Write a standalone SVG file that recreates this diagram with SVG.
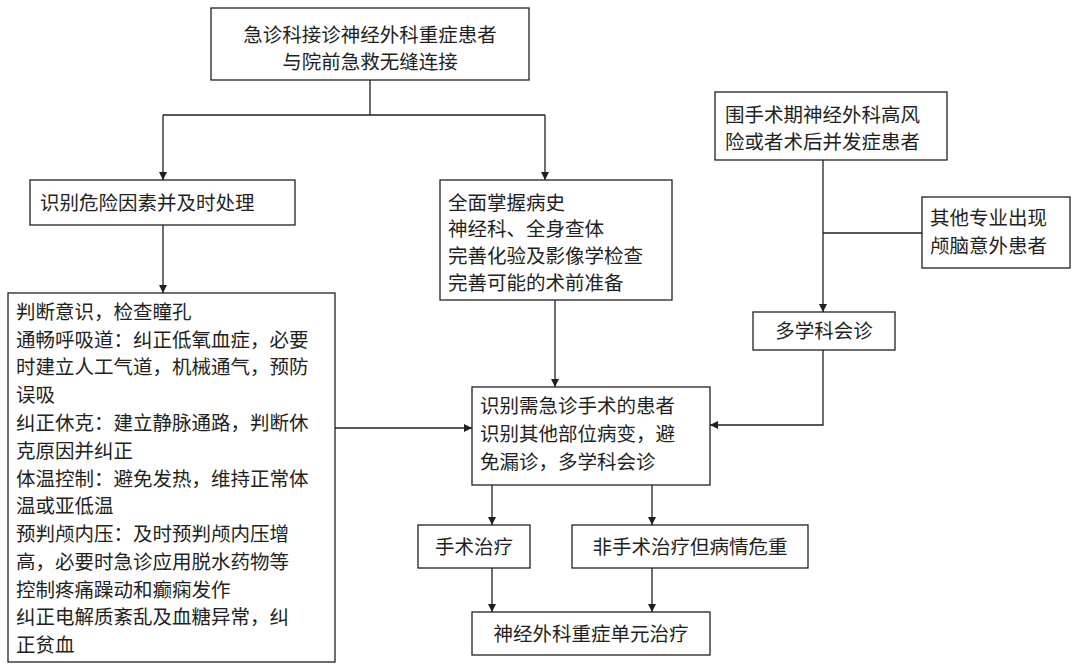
<svg xmlns="http://www.w3.org/2000/svg" width="1080" height="669" viewBox="0 0 1080 669">
<defs>
<style>
rect{fill:#fff;stroke:#231f20;stroke-width:1.3}
text{font-family:"Noto Sans CJK SC","Liberation Serif",serif;font-size:19.5px;fill:#231f20}
.c{text-anchor:middle}
.ln{stroke:#231f20;stroke-width:1.3;fill:none}
</style>
<marker id="a" viewBox="0 0 10 10" refX="10" refY="5" markerWidth="8" markerHeight="8" orient="auto" markerUnits="userSpaceOnUse"><path d="M0,0L10,5L0,10z" fill="#231f20"/></marker>
</defs>
<rect x="0" y="0" width="1080" height="669" style="fill:#fff;stroke:none"/>
<g id="connectors">
<path class="ln" d="M370,80V115M163,115H545"/>
<path class="ln" d="M163,115V180" marker-end="url(#a)"/>
<path class="ln" d="M545,115V180" marker-end="url(#a)"/>
<path class="ln" d="M163,225V293" marker-end="url(#a)"/>
<path class="ln" d="M555,300V387" marker-end="url(#a)"/>
<path class="ln" d="M335,428H472" marker-end="url(#a)"/>
<path class="ln" d="M922,233H823"/>
<path class="ln" d="M823,160V312" marker-end="url(#a)"/>
<path class="ln" d="M823,350V425H710" marker-end="url(#a)"/>
<path class="ln" d="M492,485V525" marker-end="url(#a)"/>
<path class="ln" d="M652,485V525" marker-end="url(#a)"/>
<path class="ln" d="M492,568V612" marker-end="url(#a)"/>
<path class="ln" d="M652,568V612" marker-end="url(#a)"/>
</g>
<g id="n1"><rect x="211" y="8" width="318" height="72"/><text class="c" x="370" y="42">急诊科接诊神经外科重症患者</text><text class="c" x="370" y="69">与院前急救无缝连接</text></g>
<g id="n2"><rect x="30" y="180" width="265" height="45"/><text x="40" y="210">识别危险因素并及时处理</text></g>
<g id="n3"><rect x="440" y="180" width="232" height="120"/><text x="448" y="210">全面掌握病史</text><text x="448" y="236">神经科、全身查体</text><text x="448" y="263">完善化验及影像学检查</text><text x="448" y="290">完善可能的术前准备</text></g>
<g id="n4"><rect x="715" y="92" width="232" height="68"/><text x="725" y="122">围手术期神经外科高风</text><text x="725" y="149">险或者术后并发症患者</text></g>
<g id="n5"><rect x="922" y="197" width="148" height="71"/><text x="930" y="225">其他专业出现</text><text x="930" y="253">颅脑意外患者</text></g>
<g id="n6"><rect x="753" y="312" width="142" height="38"/><text class="c" x="824" y="338">多学科会诊</text></g>
<g id="n7"><rect x="8" y="293" width="327" height="369"/>
<text x="16" y="319">判断意识，检查瞳孔</text>
<text x="16" y="347">通畅呼吸道：纠正低氧血症，必要</text>
<text x="16" y="374">时建立人工气道，机械通气，预防</text>
<text x="16" y="402">误吸</text>
<text x="16" y="430">纠正休克：建立静脉通路，判断休</text>
<text x="16" y="458">克原因并纠正</text>
<text x="16" y="486">体温控制：避免发热，维持正常体</text>
<text x="16" y="513">温或亚低温</text>
<text x="16" y="541">预判颅内压：及时预判颅内压增</text>
<text x="16" y="569">高，必要时急诊应用脱水药物等</text>
<text x="16" y="597">控制疼痛躁动和癫痫发作</text>
<text x="16" y="624">纠正电解质紊乱及血糖异常，纠</text>
<text x="16" y="652">正贫血</text></g>
<g id="n8"><rect x="472" y="387" width="238" height="98"/><text x="480" y="413">识别需急诊手术的患者</text><text x="480" y="441">识别其他部位病变，避</text><text x="480" y="469">免漏诊，多学科会诊</text></g>
<g id="n9"><rect x="418" y="525" width="112" height="43"/><text class="c" x="474" y="554">手术治疗</text></g>
<g id="n10"><rect x="572" y="525" width="236" height="43"/><text class="c" x="690" y="554">非手术治疗但病情危重</text></g>
<g id="n11"><rect x="472" y="612" width="238" height="43"/><text class="c" x="591" y="641">神经外科重症单元治疗</text></g>
</svg>
